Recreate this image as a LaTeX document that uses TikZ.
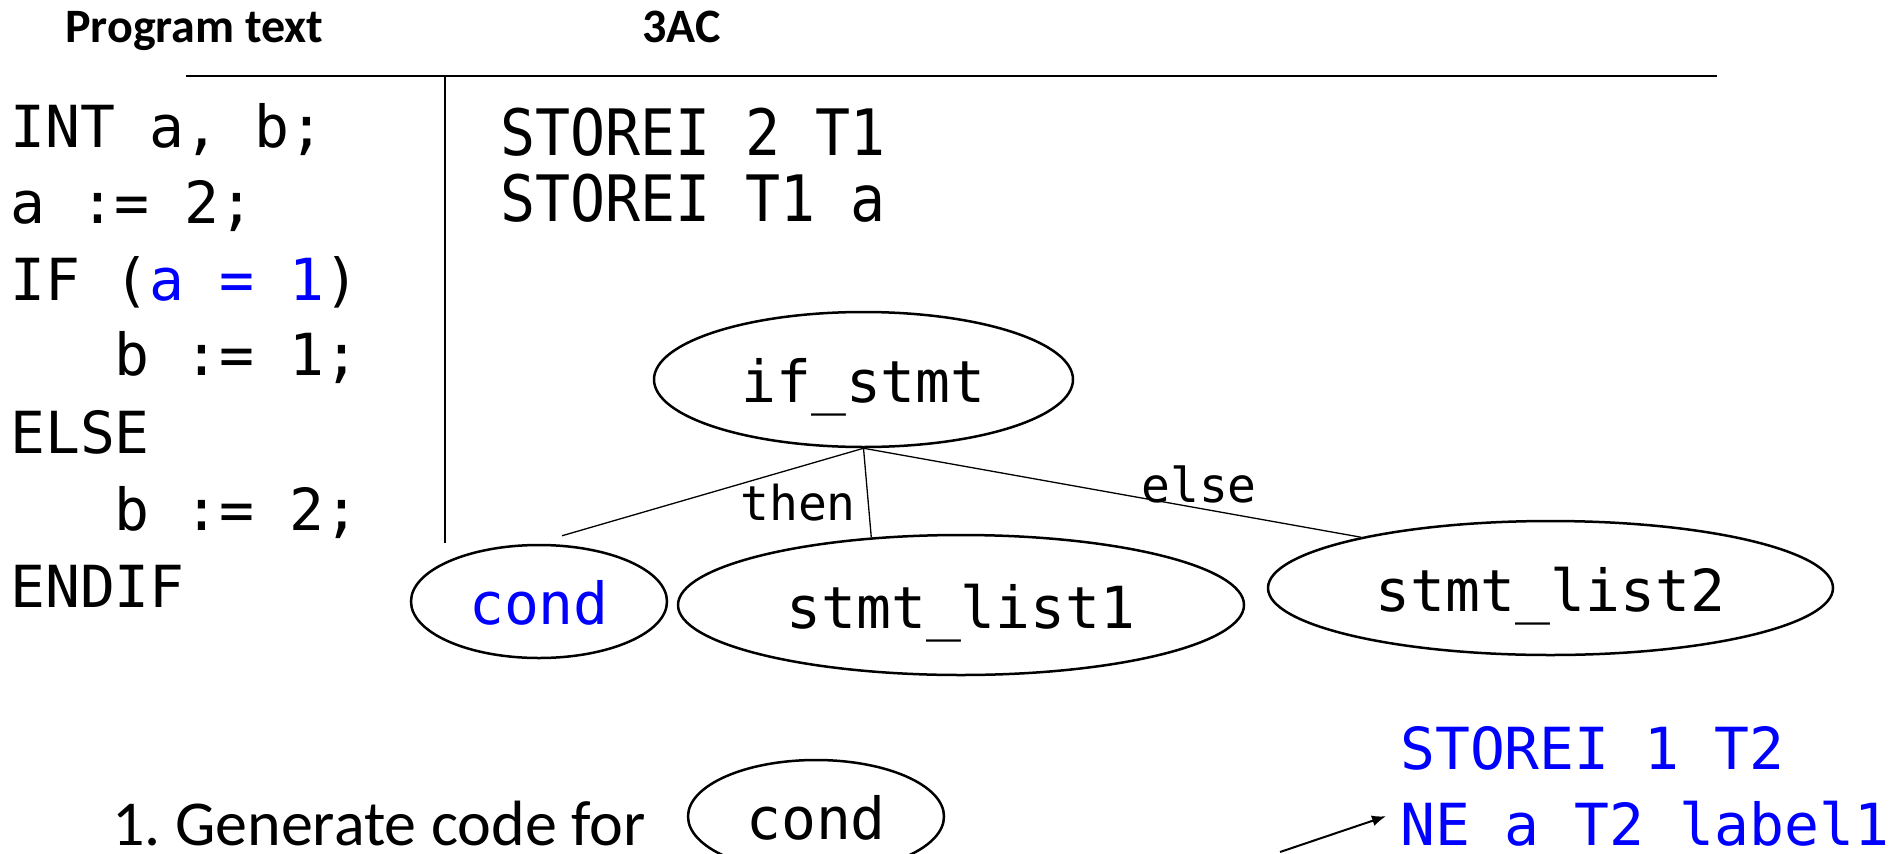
\documentclass[tikz,border=0pt]{standalone}
\usepackage{fontspec}
\setmainfont{Carlito}
\newfontfamily\codefont{DejaVu Sans Mono}
\newfontfamily\tacfont[FakeStretch=0.91]{DejaVu Sans Mono}
\usetikzlibrary{shapes.geometric,arrows.meta,calc}
\definecolor{codeblue}{RGB}{0,0,255}
\frenchspacing
\begin{document}
\begin{tikzpicture}[x=1pt,y=-1pt,
  hdr/.style={font=\fontsize{48}{48}\selectfont\bfseries, anchor=base west, inner sep=0},
  code/.style={font=\codefont\fontsize{58}{58}\selectfont, anchor=base west, inner sep=0},
  tac/.style={font=\tacfont\fontsize{64}{64}\selectfont, anchor=base west, inner sep=0},
  tree/.style={draw, ellipse, line width=2.5pt, inner sep=0, font=\codefont\fontsize{58}{58}\selectfont, text height=46pt, text depth=0pt},
  edgelab/.style={font=\codefont\fontsize{48}{48}\selectfont, anchor=base west, inner sep=0},
  treeedge/.style={line width=1.3pt},
  rulehor/.style={line width=2pt},
  rulever/.style={line width=1.6pt}]
\useasboundingbox (0,0) rectangle (1893,854);
% headers
\node[hdr] (h1) at (65,42) {Program text};
\node[hdr] (h2) at (642,42) {3AC};
\coordinate (hl) at (186,76);
\coordinate (hr) at (1717,76);
\draw[rulehor] (hl) -- (hr);
\coordinate (vt) at (445,76);
\coordinate (vb) at (445,543);
\draw[rulever] (vt) -- (vb);
% program text
\node[code] (c1) at (10,147) {INT a, b;};
\node[code] (c2) at (10,223) {a := 2;};
\node[code] (c3) at (10,300) {IF (\textcolor{codeblue}{a = 1})};
\node[code] (c4) at (10,375) {\phantom{XXX}b := 1;};
\node[code] (c5) at (10,453) {ELSE};
\node[code] (c6) at (10,530) {\phantom{XXX}b := 2;};
\node[code] (c7) at (10,607) {ENDIF};
% 3AC
\node[tac] (t1) at (500,155) {STOREI 2 T1};
\node[tac] (t2) at (500,221) {STOREI T1 a};
% tree
\node[tree, minimum width=419pt, minimum height=135pt] (if) at (863.5,379.5) {if\_stmt};
\node[tree, minimum width=256pt, minimum height=113pt, text=codeblue] (cond) at (539,601.5) {cond};
\node[tree, minimum width=566pt, minimum height=140pt] (sl1) at (961,605) {stmt\_list1};
\node[tree, minimum width=565pt, minimum height=134pt] (sl2) at (1550.5,588) {stmt\_list2};
\draw[treeedge] (if.south) -- ($(cond.north)+(23,-8)$);
\draw[treeedge] (if.south) -- (sl1.143.5);
\draw[treeedge] (if.south) -- (sl2.165.6);
\node[edgelab] (then) at (740,520) {then};
\node[edgelab] (else) at (1141,502) {else};
% bottom
\node[font=\fontsize{64}{64}\selectfont, anchor=base west, inner sep=0] (gen) at (112,845) {1. Generate code for};
\node[tree, minimum width=256pt, minimum height=113pt] (cond2) at (816,816.5) {cond};
\node[code, text=codeblue] (s1) at (1400,769) {STOREI 1 T2};
\node[code, text=codeblue] (s2) at (1400,845) {NE a T2 label1};
\coordinate (atail) at (1280,852);
\draw[line width=2pt, -{Latex[length=14pt,width=11pt]}] (atail) -- ([xshift=-14pt,yshift=7pt]s2.west);
\end{tikzpicture}
\end{document}
